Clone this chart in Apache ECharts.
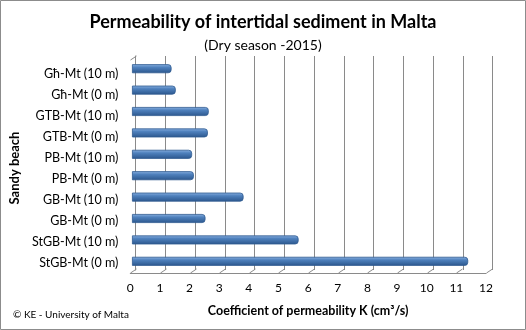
<!DOCTYPE html>
<html><head><meta charset="utf-8">
<script src="https://cdn.jsdelivr.net/npm/echarts@6/dist/echarts.min.js"></script>
<style>html,body{margin:0;padding:0;background:#fff}#c{width:526px;height:330px}</style>
</head><body><div id="c"></div>
<script>
const categories = ["StGB-Mt (0 m)","StGB-Mt (10 m)","GB-Mt (0 m)","GB-Mt (10 m)","PB-Mt (0 m)","PB-Mt (10 m)","GTB-Mt (0 m)","GTB-Mt (10 m)","Għ-Mt (0 m)","Għ-Mt (10 m)"];
const permeability = [11.3, 5.6, 2.47, 3.75, 2.08, 2.02, 2.55, 2.58, 1.47, 1.33];
const xTicks = [0,1,2,3,4,5,6,7,8,9,10,11,12];

const chart = echarts.init(document.getElementById('c'));
const F = 'Lato, "Open Sans", sans-serif';
const GRID_C = '#8a8a8a';
chart.setOption({
  animation:false,
  title:[
    {text:'Permeability of intertidal sediment in Malta', left:'center', top:8,
     textStyle:{fontFamily:F, fontSize:18, fontWeight:'bold', color:'#000'}},
    {text:'(Dry season -2015)', left:'center', top:33,
     textStyle:{fontFamily:F, fontSize:14, fontWeight:'normal', color:'#000'}},
    {text:'© KE - University of Malta', left:8, top:305,
     textStyle:{fontFamily:F, fontSize:10, fontWeight:'normal', color:'#000'}}
  ],
  graphic:[
    {type:'rect', shape:{x:0.5,y:0.5,width:525,height:329}, style:{fill:'none', stroke:'#8c8c8c', lineWidth:1}}
  ],
  grid:[
    {left:135.5, right:33.5, top:56, bottom:60},   // back wall
    {left:129, right:40, top:63, bottom:57},       // front axis + labels
    {left:132, right:37, top:58, bottom:58}        // bars
  ],
  xAxis:[
    {gridIndex:0, type:'value', min:0, max:12, interval:1,
      axisLine:{show:false}, axisTick:{show:false}, axisLabel:{show:false},
      splitLine:{show:true, lineStyle:{color:GRID_C, width:1}}},
    {gridIndex:1, type:'value', min:0, max:12, interval:1,
      name:'Coefficient of permeability K (cm³/s)', nameLocation:'middle', nameGap:31,
      nameTextStyle:{fontFamily:F, fontSize:12.5, fontWeight:'bold', color:'#000'},
      axisLine:{show:true, lineStyle:{color:GRID_C}},
      axisTick:{show:false},
      axisLabel:{fontFamily:F, fontSize:12, color:'#000', margin:9, formatter:v=>xTicks.includes(v)?String(v):''},
      splitLine:{show:false}},
    {gridIndex:2, type:'value', min:0, max:12, interval:1, show:false}
  ],
  yAxis:[
    {gridIndex:0, type:'category', data:categories, axisLine:{show:true, lineStyle:{color:GRID_C}},
      axisTick:{show:false}, axisLabel:{show:false}, splitLine:{show:false}},
    {gridIndex:1, type:'category', data:categories,
      name:'Sandy beach', nameLocation:'middle', nameGap:104, nameRotate:90,
      nameTextStyle:{fontFamily:F, fontSize:13, fontWeight:'bold', color:'#000'},
      axisLine:{show:false}, axisTick:{show:false},
      axisLabel:{fontFamily:F, fontSize:12.5, color:'#000', margin:12}},
    {gridIndex:2, type:'category', data:categories, show:false}
  ],
  series:[
    {type:'custom', xAxisIndex:1, yAxisIndex:1, silent:true, z:1,
      data:xTicks.map(v=>[v]), encode:{x:0},
      renderItem:function(params, api){
        const x = Math.round(api.coord([api.value(0), 0])[0]) + 0.5;
        const cs = params.coordSys;
        const yb = cs.y + cs.height;
        const children = [{type:'line', shape:{x1:x, y1:yb, x2:x+6, y2:yb-4}, style:{stroke:GRID_C, lineWidth:1}}];
        if (api.value(0) === 0) {
          children.push({type:'line', shape:{x1:x, y1:cs.y-3, x2:x+6, y2:cs.y-7}, style:{stroke:GRID_C, lineWidth:1}});
        }
        return {type:'group', children:children};
      }},
    {type:'bar', xAxisIndex:2, yAxisIndex:2, data:permeability, barWidth:9, z:3,
    itemStyle:{
      color:new echarts.graphic.LinearGradient(0,0,0,1,[
        {offset:0,color:'#8cb2e2'},{offset:0.35,color:'#4f81bd'},{offset:1,color:'#2b568c'}]),
      borderColor:'#2f5b90', borderWidth:0.8, borderRadius:[0,3,3,0]
    }
  }]
});
</script></body></html>
